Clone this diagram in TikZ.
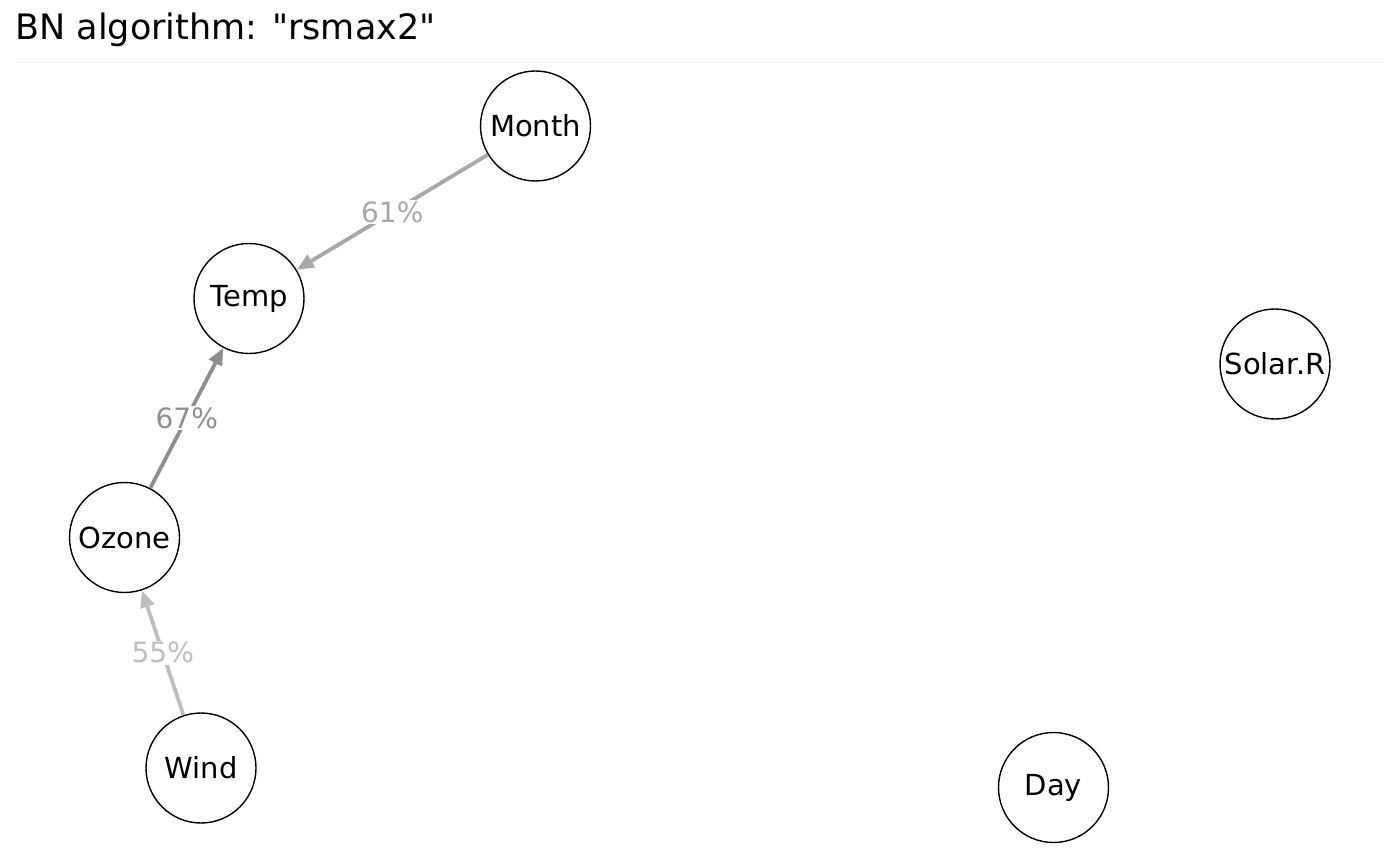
\documentclass[tikz,border=0pt]{standalone}
\usepackage{fontspec}
\setmainfont{DejaVu Sans}[Ligatures=TeXOff]
\usetikzlibrary{arrows.meta}
\definecolor{eA}{HTML}{A8A8A8}
\definecolor{eB}{HTML}{8F8F8F}
\definecolor{eC}{HTML}{BEBEBE}
\definecolor{faint}{HTML}{F4F4F4}
\begin{document}
\begin{tikzpicture}[x=0.5pt,y=-0.5pt,
  bnnode/.style={circle,draw=black,line width=0.7pt,minimum size=55pt,inner sep=0pt,font=\fontsize{14.5}{16}\selectfont},
  bnedge/.style={line width=1.9pt,-{Triangle[length=8.5pt,width=7pt]}},
  elabel/.style={fill=white,inner sep=0.8pt,font=\fontsize{14}{16}\selectfont}]
\useasboundingbox (0,0) rectangle (1400,866);
\node[anchor=base west,inner sep=0pt,font=\fontsize{17.5}{20}\selectfont] (title) at (15,40) {BN algorithm: "rsmax2"};
\coordinate (lineL) at (15,63);
\coordinate (lineR) at (1385,63);
\draw[faint,line width=0.5pt] (lineL) -- (lineR);
\node[bnnode] (month) at (535.5,126) {Month};
\node[bnnode] (temp) at (249,298.5) {Temp};
\node[bnnode] (solar) at (1275,364) {Solar.R};
\node[bnnode] (ozone) at (124.5,537.5) {Ozone};
\node[bnnode] (wind) at (201,768) {Wind};
\node[bnnode] (day) at (1053.5,787.5) {Day};
\draw[bnedge,eA] (month) -- node[elabel,text=eA] (l61) {61\%} (temp);
\draw[bnedge,eB] (ozone) -- node[elabel,text=eB] (l67) {67\%} (temp);
\draw[bnedge,eC] (wind) -- node[elabel,text=eC] (l55) {55\%} (ozone);
\end{tikzpicture}
\end{document}
